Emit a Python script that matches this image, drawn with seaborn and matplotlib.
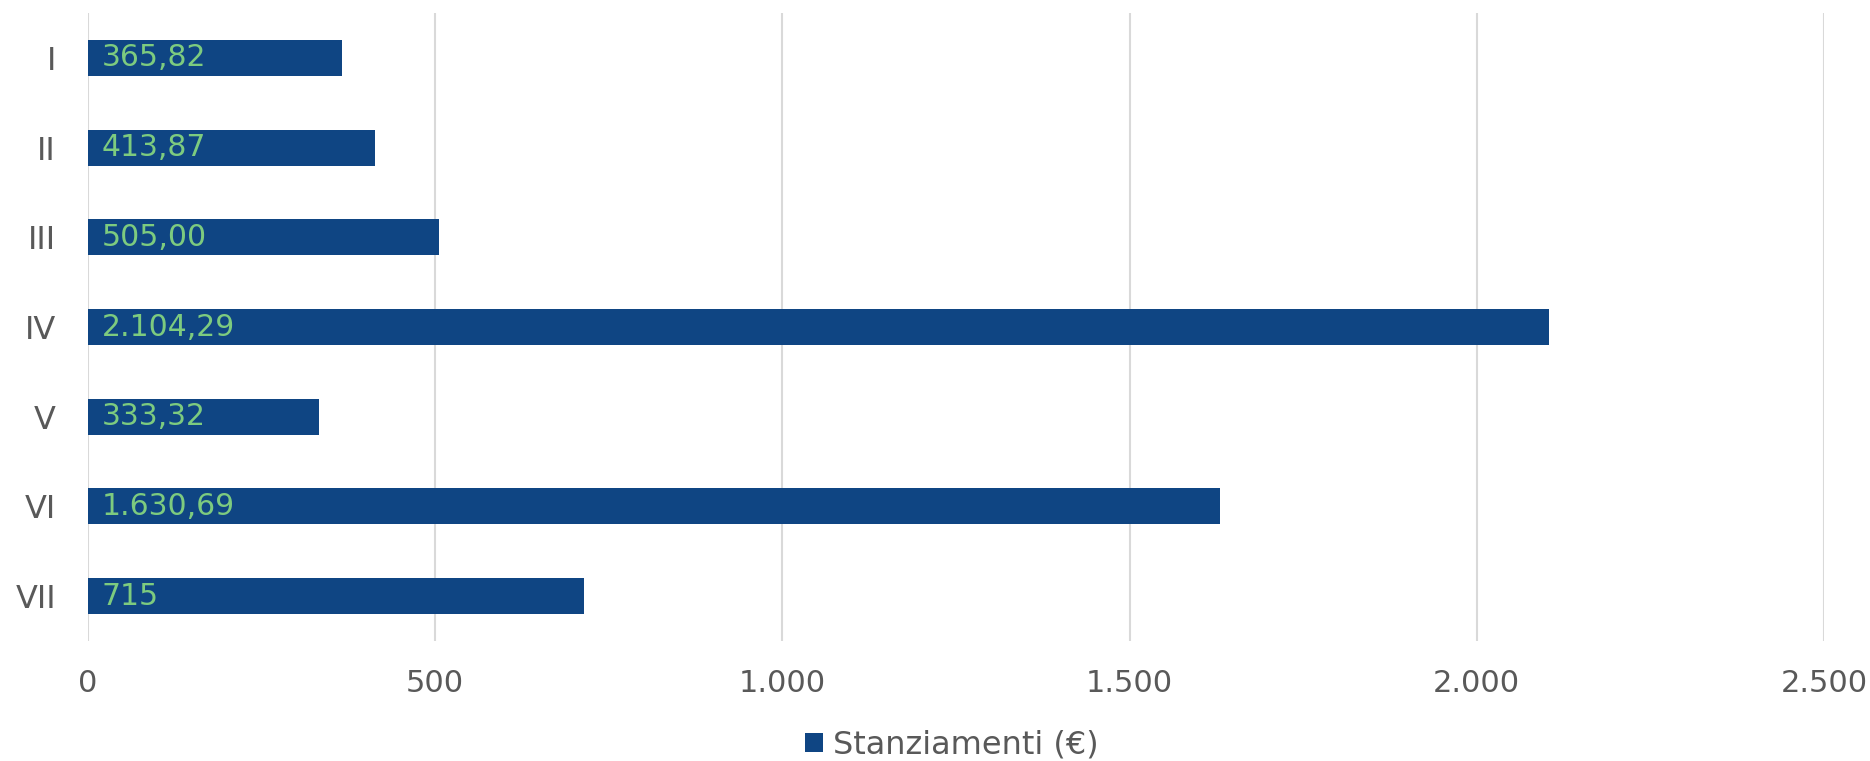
import matplotlib
matplotlib.use("Agg")
import matplotlib.pyplot as plt
import seaborn as sns
import pandas as pd
from matplotlib.patches import Patch

categories = ["I", "II", "III", "IV", "V", "VI", "VII"]
values = [365.82, 413.87, 505.00, 2104.29, 333.32, 1630.69, 715]
value_labels = ["365,82", "413,87", "505,00", "2.104,29", "333,32", "1.630,69", "715"]
xticks = [0, 500, 1000, 1500, 2000, 2500]
xtick_labels = ["0", "500", "1.000", "1.500", "2.000", "2.500"]
series_name = "Stanziamenti (€)"

bar_color = "#0F4583"
label_color = "#7DCB7F"
text_color = "#595959"
grid_color = "#D9D9D9"

sns.set_theme(style="white")
plt.rcParams["font.family"] = ["DejaVu Sans"]

df = pd.DataFrame({"cat": categories, "val": values})

fig = plt.figure(figsize=(18.70, 7.61), dpi=100)
ax = fig.add_axes([88/1870, 1 - 641/761, (1824 - 88)/1870, (641 - 13)/761])

sns.barplot(data=df, y="cat", x="val", orient="h", color=bar_color,
            width=0.4, saturation=1, ax=ax, zorder=3, edgecolor="none")

ax.set_xlim(0, 2500)
ax.set_ylim(6.5, -0.5)
ax.set_xticks(xticks)
ax.set_xticklabels(xtick_labels)
ax.set_xlabel("")
ax.set_ylabel("")
for s in ax.spines.values():
    s.set_visible(False)
ax.grid(axis="x", color=grid_color, linewidth=1.5, zorder=0)
ax.grid(axis="y", visible=False)
ax.set_axisbelow(True)
ax.tick_params(axis="x", length=0, pad=20, labelsize=22, labelcolor=text_color)
ax.tick_params(axis="y", length=0, pad=23, labelsize=23, labelcolor=text_color)

for i, (v, lab) in enumerate(zip(values, value_labels)):
    ax.annotate(lab, xy=(0, i), xytext=(10, 0), textcoords="offset points",
                ha="left", va="center", color=label_color, fontsize=21.5, zorder=5)

handles = [Patch(facecolor=bar_color, edgecolor="none", label=series_name)]
fig.legend(handles=handles, loc="center", bbox_to_anchor=(0.509, 0.021),
           frameon=False, fontsize=23, labelcolor=text_color,
           handlelength=0.55, handleheight=0.55, handletextpad=0.3)

fig.savefig("out.png", dpi=100, facecolor="white")
